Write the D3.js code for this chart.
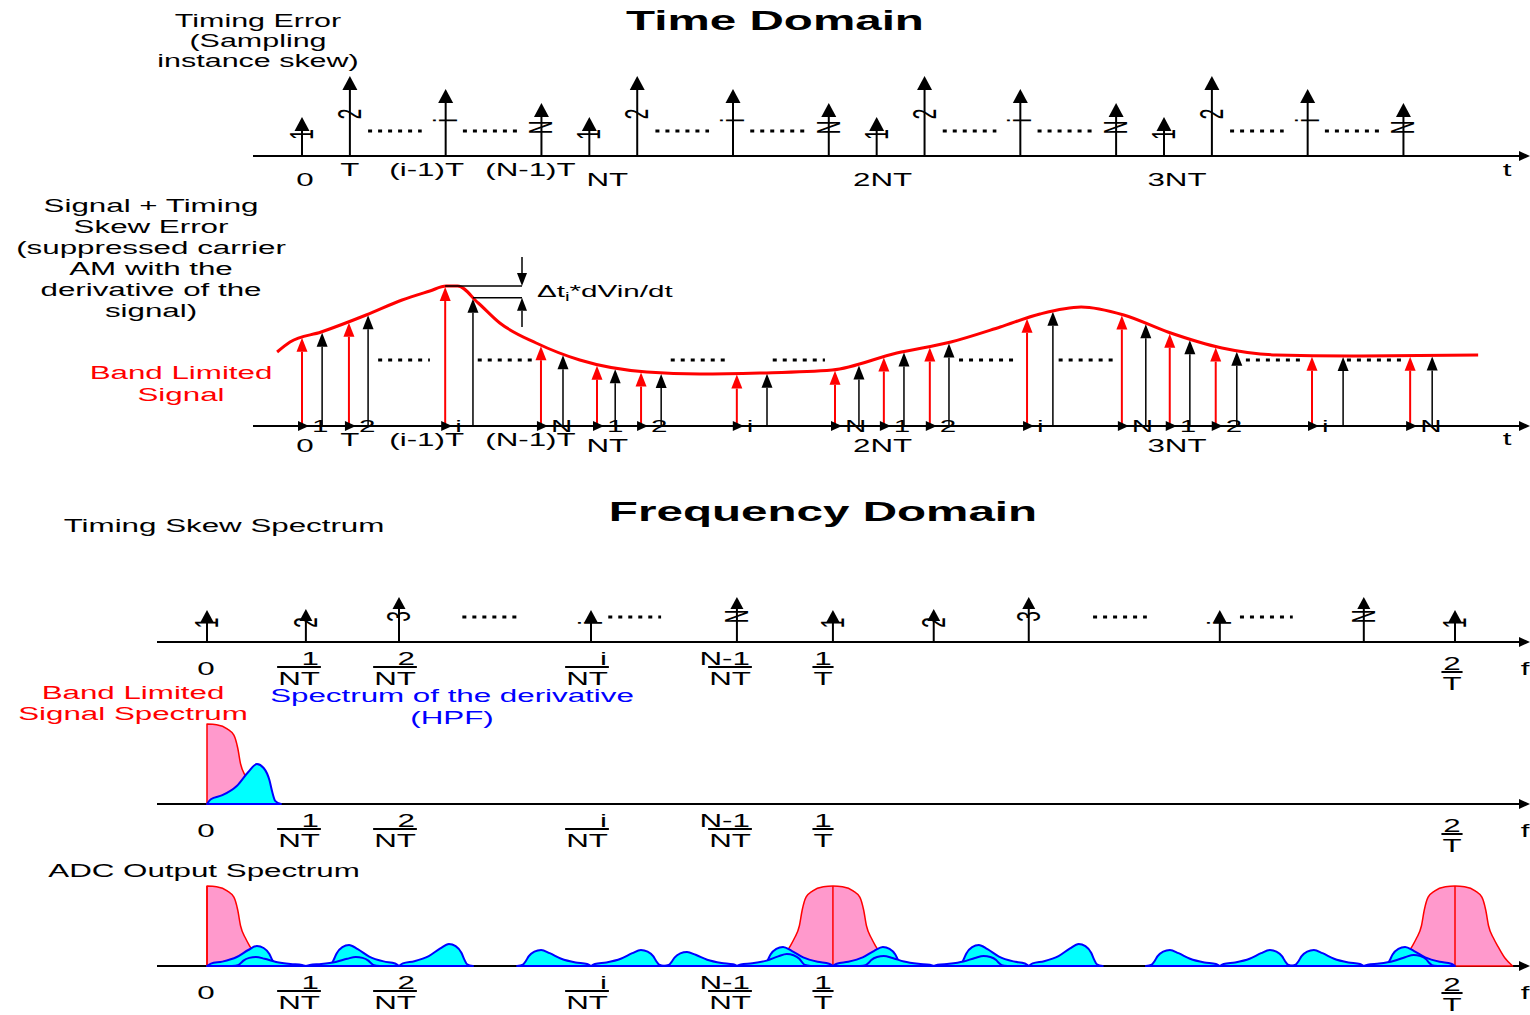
<!DOCTYPE html>
<html>
<head>
<meta charset="utf-8">
<script src="https://cdn.jsdelivr.net/npm/d3@7"></script>
<style>body{margin:0;background:#fff}</style>
</head>
<body>
<svg id="chart" width="1530" height="1015"></svg>
<script>
// ---------- time domain data ----------
const chanNames = ["1", "2", "i", "N"];
// timing error (sampling instance skew) of each channel, arrow length
const chanError = [39, 80, 67, 53];
// sampling instants in units of T (N = 6 in the drawing)
const sampleTimes = [0, 1, 3, 5, 6, 7, 9, 11, 12, 13, 15, 17, 18, 19, 21, 23];
const sampleChan = [0, 1, 2, 3, 0, 1, 2, 3, 0, 1, 2, 3, 0, 1, 2, 3];
const timeTicks = [0, 1, 3, 5, 6, 12, 18];
const timeTickLabels = ["0", "T", "(i-1)T", "(N-1)T", "NT", "2NT", "3NT"];
const dots1 = [[1.38, 2.5], [3.36, 4.49], [7.38, 8.5], [9.36, 10.49],
               [13.38, 14.5], [15.36, 16.49], [19.38, 20.5], [21.36, 22.49]];

// band limited signal (time in T, amplitude)
const sigT = [-0.52, -0.25, 0.40, 1.34, 2.09, 2.67, 3.01, 3.25, 3.68, 4.13, 4.89, 5.80, 7.20, 8.31,
              9.56, 11.07, 12.42, 13.55, 14.58, 15.41, 16.27, 17.16, 18.08, 19.21, 20.34, 21.88, 24.56];
const sigV = [74, 84, 94, 111, 126, 135, 140, 140, 123, 103, 83, 66, 54, 52,
              53, 56, 73, 84, 99, 112, 119, 111, 94, 78, 71, 70, 71];
// ideal (red) and skewed (black) sample instants
const idealTimes = [0, 0.98, 2.99, 4.99, 6.16, 7.08, 9.08, 11.13, 12.15, 13.11, 15.14, 17.12, 18.12, 19.08, 21.09, 23.14];
const skewedTimes = [0.42, 1.38, 3.57, 5.45, 6.54, 7.5, 9.71, 11.63, 12.57, 13.51, 15.68, 17.62, 18.54, 19.52, 21.74, 23.6];
const dots2 = [[1.59, 2.67], [3.67, 4.87], [7.7, 8.83], [9.83, 10.92],
               [13.72, 14.85], [15.8, 16.96], [19.71, 20.9], [21.82, 23.05]];

// ---------- frequency domain data (units of 1/NT, N = 6.5 in the drawing) ----------
const lineFreqs = [0, 1.03, 2, 4, 5.52, 6.52, 7.57, 8.56, 10.55, 12.05, 13];
const lineNames = ["1", "2", "3", "i", "N", "1", "2", "3", "i", "N", "1"];
const lineHeights = [32, 33, 45, 32, 45, 32, 33, 45, 32, 45, 32];
const freqTicks = [0, 1, 2, 4, 5.5, 6.5, 13];
const freqNum = ["0", "1", "2", "i", "N-1", "1", "2"];
const freqDen = ["", "NT", "NT", "NT", "NT", "T", "T"];
const dots3 = [[2.66, 3.24], [4.18, 4.73], [9.23, 9.79], [10.76, 11.31]];
// signal spectrum (one side) and derivative spectrum shapes
const sigProfF = [0, 0.10, 0.21, 0.28, 0.32, 0.35, 0.40, 0.45, 0.52, 0.60];
const sigProfH = [1, 0.99, 0.94, 0.86, 0.70, 0.50, 0.35, 0.24, 0.10, 0];
const derProfF = [0, 0.04, 0.16, 0.31, 0.43, 0.52, 0.59, 0.65, 0.68, 0.71, 0.77];
const derProfH = [0, 0.12, 0.22, 0.45, 0.80, 1, 0.90, 0.60, 0.30, 0.08, 0];
const sigSpecHeight = 80;
const derSpecHeight = 40;
const adcImages = [0, 6.52, 13];
const adcLeftH = [0, 9, 21, 16, 14, 19, 10, 21, 16, 16, 19];
const adcRightH = [20, 9, 22, 16, 12, 19, 10, 22, 16, 11, 0];

// ---------- layout ----------
const W = 1530, H = 1015;
const SX = 1.74;   // lettering in the original is stretched horizontally
const FONT = "'Liberation Sans', Arial, Helvetica, sans-serif";
const A1 = 156, A2 = 426, A3 = 642, A4 = 804, A5 = 966;
const timeNudge = [3, 0, -19, -11, 18, 6, 13];
const timeLow = [true, false, false, false, true, true, true];
const fNudge = [-1, -4, -4, -4, -5, -8, -3];
const fDrop = [0, 0, 0, 0, 0, 0, 5];

const svg = d3.select("#chart");
svg.append("rect").attr("width", W).attr("height", H).attr("fill", "#fff");

const tx = d3.scaleLinear().domain([0, 18]).range([302, 1164]);
const fx = d3.scaleLinear().domain([0, 13]).range([207, 1455]);

function txt(g, x, y, s, o = {}) {
    let tr = `translate(${x},${y}) scale(${o.sx || SX},1)`;
    if (o.rot) tr += ` rotate(${o.rot})`;
    return g.append("text")
        .attr("transform", tr)
        .attr("text-anchor", o.anchor || "middle")
        .attr("dominant-baseline", o.rot ? "central" : null)
        .attr("font-family", FONT)
        .attr("font-size", o.size || 18)
        .attr("font-weight", o.weight || "normal")
        .attr("fill", o.color || "#000")
        .text(s);
}

function arrow(g, x, yBase, yTip, o = {}) {
    const d = yTip < yBase ? 1 : -1;
    const h = o.h || 14, w = o.w || 12, c = o.color || "#000";
    const yh = yTip + d * h;
    g.append("line").attr("x1", x).attr("x2", x).attr("y1", yBase).attr("y2", yh)
        .attr("stroke", c).attr("stroke-width", o.sw || 2);
    g.append("path").attr("d", `M${x},${yTip}L${x + w / 2},${yh}L${x - w / 2},${yh}Z`).attr("fill", c);
}

function hAxis(g, x0, x1, y) {
    g.append("line").attr("x1", x0).attr("x2", x1 - 4).attr("y1", y).attr("y2", y)
        .attr("stroke", "#000").attr("stroke-width", 2);
    g.append("path").attr("d", `M${x1},${y}L${x1 - 11},${y - 5}L${x1 - 11},${y + 5}Z`).attr("fill", "#000");
}

function dotted(g, x0, x1, y) {
    g.append("line").attr("x1", x0).attr("x2", x1).attr("y1", y).attr("y2", y)
        .attr("stroke", "#000").attr("stroke-width", 3).attr("stroke-dasharray", "4,6");
}

// titles
txt(svg, 775, 30, "Time Domain", {size: 28, weight: "bold", sx: 1.7});
txt(svg, 823, 521, "Frequency Domain", {size: 28, weight: "bold", sx: 1.7});

// ================= panel 1 : timing error =================
const g1 = svg.append("g");
["Timing Error", "(Sampling", "instance skew)"].forEach((s, k) => txt(g1, 258, 27 + 20 * k, s, {size: 17.5}));
hAxis(g1, 253, 1530, A1);
const yErr = d3.scaleLinear().domain([0, 80]).range([A1, A1 - 80]);
sampleTimes.forEach((t, k) => {
    const x = tx(t), tip = yErr(chanError[sampleChan[k]]);
    arrow(g1, x, A1, tip, {w: 15, h: 14, sw: 2});
    txt(g1, x, (tip + 14 + A1 - 18) / 2, chanNames[sampleChan[k]], {rot: -90, size: 19});
});
dots1.forEach(d => dotted(g1, tx(d[0]), tx(d[1]), 131));
timeTicks.forEach((t, k) => txt(g1, tx(t) + timeNudge[k], A1 + (timeLow[k] ? 30 : 20), timeTickLabels[k]));
txt(g1, 1507, A1 + 20, "t");

// ================= panel 2 : signal + skew =================
const g2 = svg.append("g");
["Signal + Timing", "Skew Error", "(suppressed carrier", "AM with the", "derivative of the", "signal)"]
    .forEach((s, k) => txt(g2, 151, 212 + 21 * k, s));
txt(g2, 181, 379, "Band Limited", {color: "#f00"});
txt(g2, 181, 401, "Signal", {color: "#f00"});
hAxis(g2, 253, 1530, A2);

const sy = d3.scaleLinear().domain([0, 140]).range([A2, A2 - 140]);
const sigLine = d3.line().x(d => tx(d[0])).y(d => sy(d[1])).curve(d3.curveMonotoneX);
const sigPath = g2.append("path").datum(sigT.map((t, k) => [t, sigV[k]]))
    .attr("d", sigLine).attr("fill", "none").attr("stroke", "#f00").attr("stroke-width", 3);
const sigNode = sigPath.node(), sigLen = sigNode.getTotalLength();
function curveYAt(px) {
    let lo = 0, hi = sigLen;
    for (let k = 0; k < 40; k++) {
        const mid = (lo + hi) / 2;
        if (sigNode.getPointAtLength(mid).x < px) lo = mid; else hi = mid;
    }
    return sigNode.getPointAtLength(lo).y;
}

dots2.forEach(d => dotted(g2, tx(d[0]), tx(d[1]), 360));
idealTimes.forEach((t, k) => {
    const xr = tx(t), xb = tx(skewedTimes[k]);
    arrow(g2, xr, A2, curveYAt(xr) + 1, {color: "#f00", w: 11, h: 14, sw: 2});
    arrow(g2, xb, A2, curveYAt(xb) + 1, {color: "#000", w: 11, h: 14, sw: 1.5});
    g2.append("path").attr("d", `M${xr - 4},${A2 - 5}L${xr + 7},${A2}L${xr - 4},${A2 + 5}Z`).attr("fill", "#000");
    txt(g2, xr + 10, A2 + 6, chanNames[sampleChan[k]], {anchor: "start", size: 17});
});
sigPath.raise();
timeTicks.forEach((t, k) => txt(g2, tx(t) + timeNudge[k], A2 + (timeLow[k] ? 26 : 20), timeTickLabels[k]));
txt(g2, 1507, A2 + 19, "t");

// skew annotation on the i-th sample
const annX = 522;
const xr2 = tx(idealTimes[2]), xb2 = tx(skewedTimes[2]);
const yA = curveYAt(xr2), yB = curveYAt(xb2);
g2.append("line").attr("x1", xr2).attr("x2", annX).attr("y1", yA).attr("y2", yA).attr("stroke", "#000").attr("stroke-width", 1.5);
g2.append("line").attr("x1", xb2).attr("x2", annX).attr("y1", yB).attr("y2", yB).attr("stroke", "#000").attr("stroke-width", 1.5);
arrow(g2, annX, 257, yA, {w: 10, h: 13, sw: 1.5});
arrow(g2, annX, 327, yB, {w: 10, h: 13, sw: 1.5});
const dt = g2.append("text").attr("transform", `translate(537,297) scale(${SX},1)`)
    .attr("font-family", FONT).attr("font-size", 17).attr("text-anchor", "start");
dt.append("tspan").text("\u0394t");
dt.append("tspan").attr("dy", 4).attr("font-size", 12).text("i");
dt.append("tspan").attr("dy", -4).text("*dVin/dt");

// ================= frequency panels =================
function freqLabels(g, A, dropScale) {
    freqTicks.forEach((f, k) => {
        const cx = fx(f) + fNudge[k], drop = fDrop[k] * dropScale;
        if (!freqDen[k]) { txt(g, cx, A + 33, freqNum[k]); return; }
        const den = txt(g, cx, A + 43 + drop, freqDen[k]);
        const w = den.node().getComputedTextLength() * SX;
        g.append("line").attr("x1", cx - w / 2 - 1).attr("x2", cx + w / 2 + 1)
            .attr("y1", A + 25 + drop).attr("y2", A + 25 + drop).attr("stroke", "#000").attr("stroke-width", 2);
        txt(g, cx + w / 2 - 1, A + 23 + drop, freqNum[k], {anchor: "end"});
    });
    txt(g, 1525, A + 33, "f");
}

// side: +1 right of center, -1 left, 0 both
function lobe(center, side, height, pf, ph) {
    const right = pf.map((f, k) => [center + f, height * ph[k]]);
    const left = pf.map((f, k) => [center - f, height * ph[k]]).reverse();
    if (side > 0) return right;
    if (side < 0) return left;
    return left.concat(right.slice(1));
}
function drawLobe(g, pts, A, fill, stroke, sw) {
    const area = d3.area().x(d => fx(d[0])).y0(A).y1(d => A - d[1]).curve(d3.curveMonotoneX);
    g.append("path").datum(pts).attr("d", area)
        .attr("fill", fill).attr("stroke", stroke).attr("stroke-width", sw).attr("stroke-linejoin", "round");
}

// panel 3: timing skew spectrum
const g3 = svg.append("g");
txt(g3, 224, 532, "Timing Skew Spectrum");
hAxis(g3, 157, 1530, A3);
const yLine = d3.scaleLinear().domain([0, 45]).range([A3, A3 - 45]);
lineFreqs.forEach((f, k) => {
    const x = fx(f), tip = yLine(lineHeights[k]);
    arrow(g3, x, A3, tip, {w: 13, h: 12, sw: 2});
    txt(g3, x, (tip + 12 + A3 - 18) / 2, lineNames[k], {rot: -90, size: 19});
});
dots3.forEach(d => dotted(g3, fx(d[0]), fx(d[1]), 617));
freqLabels(g3, A3, 1);

// panel 4: band limited signal spectrum and derivative spectrum
const g4 = svg.append("g");
txt(g4, 133, 699, "Band Limited", {color: "#f00"});
txt(g4, 133, 720, "Signal Spectrum", {color: "#f00"});
txt(g4, 452, 702, "Spectrum of the derivative", {color: "#00f"});
txt(g4, 452, 724, "(HPF)", {color: "#00f"});
hAxis(g4, 157, 1530, A4);
drawLobe(g4, lobe(0, 1, sigSpecHeight, sigProfF, sigProfH), A4, "#ff99cc", "#f00", 1.5);
drawLobe(g4, lobe(0, 1, derSpecHeight, derProfF, derProfH), A4, "#00ffff", "#00f", 2);
freqLabels(g4, A4, 1);

// panel 5: ADC output spectrum
const g5 = svg.append("g");
txt(g5, 204, 877, "ADC Output Spectrum");
hAxis(g5, 157, 1530, A5);
adcImages.forEach((f, k) => {
    drawLobe(g5, lobe(f, k === 0 ? 1 : 0, sigSpecHeight, sigProfF, sigProfH), A5, "#ff99cc", "#f00", 1.5);
    g5.append("line").attr("x1", fx(f)).attr("x2", fx(f)).attr("y1", A5 - sigSpecHeight).attr("y2", A5)
        .attr("stroke", "#f00").attr("stroke-width", 1.5);
});
const adcLobes = [];
lineFreqs.forEach((f, k) => {
    if (adcLeftH[k]) adcLobes.push(lobe(f, -1, adcLeftH[k], derProfF, derProfH));
    if (adcRightH[k]) adcLobes.push(lobe(f, 1, adcRightH[k], derProfF, derProfH));
});
adcLobes.sort((a, b) => d3.max(b, d => d[1]) - d3.max(a, d => d[1]))
    .forEach(p => drawLobe(g5, p, A5, "#00ffff", "#00f", 2));
freqLabels(g5, A5, 0.4);
</script>
</body>
</html>
